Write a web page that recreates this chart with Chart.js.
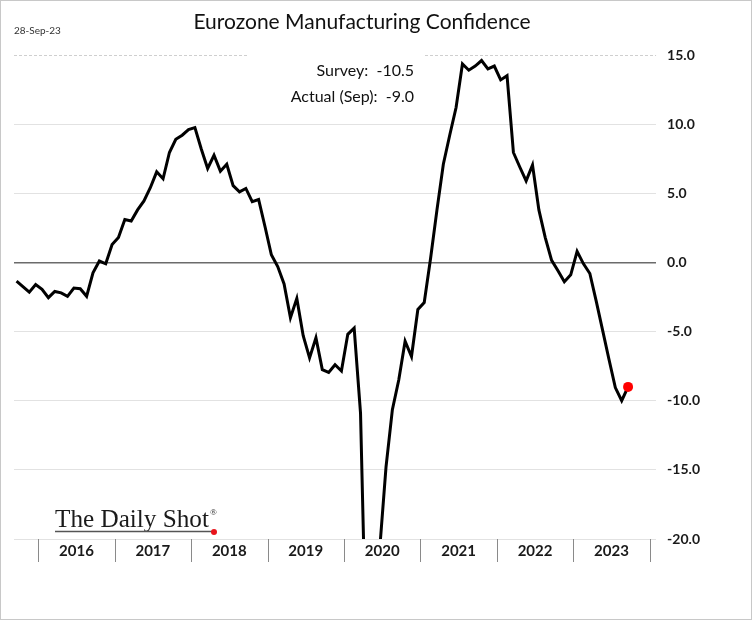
<!DOCTYPE html>
<html>
<head>
<meta charset="utf-8">
<title>Eurozone Manufacturing Confidence</title>
<script src="https://cdn.jsdelivr.net/npm/chart.js@4.4.0/dist/chart.umd.min.js"></script>
<style>
    html, body { margin: 0; padding: 0; background: #fff; }
    #wrap { width: 752px; height: 620px; box-sizing: border-box; border: 1px solid #c8c8c8; }
    canvas { display: block; }
</style>
</head>
<body>
<div id="wrap"><canvas id="myChart" width="750" height="618"></canvas></div>
<script>
// first observation is Sep 2015, last is Sep 2023 (monthly)
const firstYear = 2015;
const firstMonth = 9;

const confidence = [
    -1.35, -1.75, -2.15, -1.6,                                               // Sep-Dec 2015
    -1.95, -2.55, -2.1, -2.2, -2.45, -1.85, -1.9, -2.45, -0.75, 0.1, -0.1, 1.3, // 2016
    1.8, 3.1, 3.0, 3.8, 4.45, 5.4, 6.55, 6.05, 7.95, 8.9, 9.2, 9.6,          // 2017
    9.75, 8.2, 6.8, 7.75, 6.6, 7.1, 5.55, 5.1, 5.35, 4.4, 4.55, 2.6,          // 2018
    0.55, -0.3, -1.55, -4.0, -2.6, -5.3, -6.9, -5.45, -7.75, -7.95, -7.4, -7.85, // 2019
    -5.2, -4.75, -10.9, -30.3, -27.2, -20.8, -14.8, -10.65, -8.5, -5.7, -6.8, -3.4, // 2020
    -2.9, 0.3, 3.8, 7.1, 9.2, 11.2, 14.35, 13.9, 14.2, 14.6, 14.0, 14.2,      // 2021
    13.2, 13.5, 7.95, 6.9, 5.9, 7.05, 3.8, 1.8, 0.15, -0.6, -1.4, -0.9,       // 2022
    0.8, -0.1, -0.8, -2.8, -4.9, -7.0, -9.05, -10.0, -9.0                     // Jan-Sep 2023
];

const yearLabels = [ '2016', '2017', '2018', '2019', '2020', '2021', '2022', '2023' ];
const yTicks = [ -20, -15, -10, -5, 0, 5, 10, 15 ];

const surveyValue = -10.5;
const actualValue = -9.0;
const actualMonth = 'Sep';
const chartTitle = 'Eurozone Manufacturing Confidence';
const dateStamp = '28-Sep-23';

// x is months since Jan 2016, points sit a little past the start of their month
const pointOffset = 0.6;
const firstIndex = ( firstYear - 2016 ) * 12 + ( firstMonth - 1 );
const points = confidence.map( ( v, k ) => ( { x: firstIndex + k + pointOffset, y: v } ) );
const lastIdx = points.length - 1;

const FONT = 'Lato, "Open Sans", sans-serif';

const decorations = {
    id: 'decorations',
    beforeDraw( chart )
    {
        const c = chart.ctx;
        c.save();
        c.fillStyle = '#fff';
        c.fillRect( 0, 0, chart.width, chart.height );
        c.restore();
    },
    beforeDatasetsDraw( chart )
    {
        const c = chart.ctx;
        const area = chart.chartArea;
        const y = Math.round( chart.scales.y.getPixelForValue( yTicks[ yTicks.length - 1 ] ) ) + 0.5;
        c.save();
        c.strokeStyle = '#cfcfcf';
        c.lineWidth = 1;
        c.setLineDash( [ 3, 2 ] );
        c.beginPath();
        c.moveTo( area.left, y );
        c.lineTo( 247, y );
        c.moveTo( 424, y );
        c.lineTo( area.right, y );
        c.stroke();
        c.restore();
    },
    afterDraw( chart )
    {
        const c = chart.ctx;
        const area = chart.chartArea;
        const xs = chart.scales.x;
        c.save();

        // title and date stamp
        c.fillStyle = '#111';
        c.textBaseline = 'middle';
        c.textAlign = 'center';
        c.font = '21px ' + FONT;
        c.fillText( chartTitle, 361, 21 );
        c.textAlign = 'left';
        c.font = '10px ' + FONT;
        c.fillStyle = '#333';
        c.fillText( dateStamp, 13, 30 );

        // survey / actual box
        c.textAlign = 'right';
        c.fillStyle = '#111';
        c.font = '16px ' + FONT;
        c.fillText( 'Survey:  ' + surveyValue.toFixed( 1 ), 413, 70 );
        c.fillText( 'Actual (' + actualMonth + '):  ' + actualValue.toFixed( 1 ), 413, 96 );

        // year separators under the axis
        c.strokeStyle = '#8a8a8a';
        c.lineWidth = 1;
        c.beginPath();
        for ( let j = 0; j <= yearLabels.length; j++ )
        {
            const px = Math.round( xs.getPixelForValue( j * 12 ) ) + 0.5;
            c.moveTo( px, area.bottom );
            c.lineTo( px, area.bottom + 23 );
        }
        c.stroke();

        // logo
        c.textAlign = 'left';
        c.textBaseline = 'alphabetic';
        c.fillStyle = '#1a1a1a';
        let size = 24;
        c.font = size + 'px "Liberation Serif", "DejaVu Serif", serif';
        const w = c.measureText( 'The Daily Shot' ).width;
        size = size * 154 / w;
        c.font = size.toFixed( 1 ) + 'px "Liberation Serif", "DejaVu Serif", serif';
        c.fillText( 'The Daily Shot', 54, 526 );
        c.font = '9px "Liberation Serif", serif';
        c.fillText( '®', 209, 514 );
        c.strokeStyle = '#555';
        c.lineWidth = 1.6;
        c.beginPath();
        c.moveTo( 54, 530.5 );
        c.lineTo( 212, 530.5 );
        c.stroke();
        c.fillStyle = '#e8141b';
        c.beginPath();
        c.arc( 213, 531, 3, 0, Math.PI * 2 );
        c.fill();

        c.restore();
    }
};

new Chart( document.getElementById( 'myChart' ), {
    type: 'line',
    data: {
        datasets: [ {
            label: 'Manufacturing confidence',
            data: points,
            borderColor: '#000',
            borderWidth: 3,
            tension: 0,
            pointRadius: ( ctx ) => ctx.dataIndex === lastIdx ? 5 : 0,
            pointBackgroundColor: '#ff0000',
            pointBorderColor: '#ff0000',
            pointBorderWidth: 0,
            pointHoverRadius: 0
        } ]
    },
    options: {
        responsive: false,
        animation: false,
        events: [],
        layout: {
            padding: { left: 13, right: 40, top: 54, bottom: 56 }
        },
        plugins: {
            legend: { display: false },
            title: { display: false },
            tooltip: { enabled: false }
        },
        scales: {
            x: {
                type: 'linear',
                min: -3.8,
                max: 97,
                afterBuildTicks: ( scale ) =>
                {
                    scale.ticks = yearLabels.map( ( y, j ) => ( { value: j * 12 + 6 } ) );
                },
                ticks: {
                    autoSkip: false,
                    maxRotation: 0,
                    padding: 3,
                    color: '#1a1a1a',
                    font: { family: FONT, size: 15, weight: 'bold' },
                    callback: ( v ) => yearLabels[ Math.round( ( v - 6 ) / 12 ) ]
                },
                grid: { display: false, drawTicks: false },
                border: { display: false }
            },
            y: {
                position: 'right',
                min: yTicks[ 0 ],
                max: yTicks[ yTicks.length - 1 ],
                afterBuildTicks: ( scale ) =>
                {
                    scale.ticks = yTicks.map( ( v ) => ( { value: v } ) );
                },
                ticks: {
                    padding: 11,
                    color: '#1a1a1a',
                    font: { family: FONT, size: 14, weight: 'bold' },
                    callback: ( v ) => v.toFixed( 1 )
                },
                grid: {
                    drawTicks: false,
                    color: ( ctx ) =>
                    {
                        const v = ctx.tick.value;
                        if ( v === 0 ) return '#6b6b6b';
                        if ( v === yTicks[ yTicks.length - 1 ] ) return 'rgba(0,0,0,0)';
                        return '#e2e2e2';
                    },
                    lineWidth: ( ctx ) => ctx.tick.value === 0 ? 1.5 : 1
                },
                border: { display: false }
            }
        }
    },
    plugins: [ decorations ]
} );
</script>
</body>
</html>
